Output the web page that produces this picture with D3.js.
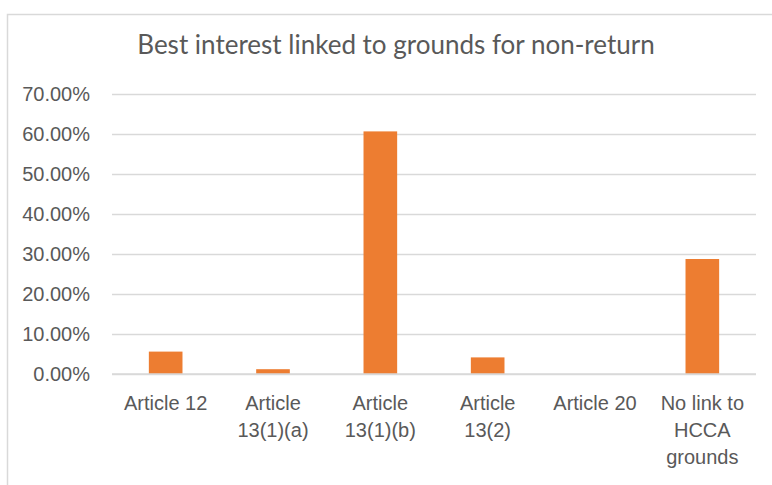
<!DOCTYPE html>
<html><head><meta charset="utf-8">
<script src="https://cdn.jsdelivr.net/npm/d3@7"></script>
<style>
html,body{margin:0;padding:0;background:#fff;}
svg{display:block;}
</style></head>
<body>
<svg id="chart" width="772" height="485"></svg>
<script>
const title = "Best interest linked to grounds for non-return";
const categories = ["Article 12", "Article 13(1)(a)", "Article 13(1)(b)", "Article 13(2)", "Article 20", "No link to HCCA grounds"];
const categoryLines = [["Article 12"], ["Article", "13(1)(a)"], ["Article", "13(1)(b)"], ["Article", "13(2)"], ["Article 20"], ["No link to", "HCCA", "grounds"]];
const values = [0.056, 0.012, 0.6065, 0.0415, 0, 0.2875];
const yTicks = [0, 0.1, 0.2, 0.3, 0.4, 0.5, 0.6, 0.7];

const svg = d3.select("#chart");
const textColor = "#595959";
const gridColor = "#d9d9d9";
const barColor = "#ED7D31";
const labelFont = "'Liberation Sans', Arial, sans-serif";

// outer border
svg.append("rect").attr("x", 7.5).attr("y", 14.5).attr("width", 800).attr("height", 520)
  .attr("fill", "none").attr("stroke", gridColor).attr("stroke-width", 1.5);

const plot = {left: 112, right: 756, top: 94, bottom: 374};

const x = d3.scaleBand().domain(categories).range([plot.left, plot.right]).padding(0);
const y = d3.scaleLinear().domain([0, 0.7]).range([plot.bottom, plot.top]);
const barW = x.bandwidth() / 3.19;

// title
svg.append("text").attr("x", 396).attr("y", 54).attr("text-anchor", "middle")
  .attr("fill", textColor).style("font-family", "Lato, 'Open Sans', sans-serif")
  .style("font-weight", 400).style("font-size", "26px").text(title);

// gridlines + y labels
const yAxis = d3.axisLeft(y).tickValues(yTicks).tickFormat(d3.format(".2%"))
  .tickSize(-(plot.right - plot.left)).tickPadding(22);
const gy = svg.append("g").attr("transform", `translate(${plot.left},0)`).call(yAxis);
gy.select(".domain").remove();
gy.selectAll(".tick line").attr("stroke", gridColor).attr("stroke-width", 1.5);
gy.selectAll(".tick text").attr("fill", textColor)
  .style("font-family", labelFont).style("font-size", "20px");

// bars
svg.append("g").selectAll("rect").data(values).join("rect")
  .attr("x", (d, i) => x(categories[i]) + x.bandwidth() / 2 - barW / 2)
  .attr("width", barW)
  .attr("y", d => y(d))
  .attr("height", d => y(0) - y(d))
  .attr("fill", barColor);

// baseline
svg.append("line").attr("x1", plot.left).attr("x2", plot.right)
  .attr("y1", y(0)).attr("y2", y(0)).attr("stroke", gridColor).attr("stroke-width", 1.5);

// category labels
const gx = svg.append("g");
categories.forEach((c, i) => {
  const t = gx.append("text").attr("text-anchor", "middle").attr("fill", textColor)
    .style("font-family", labelFont).style("font-size", "20px");
  categoryLines[i].forEach((ln, j) => {
    t.append("tspan").attr("x", x(c) + x.bandwidth() / 2).attr("y", 410 + j * 27).text(ln);
  });
});
</script>
</body></html>
